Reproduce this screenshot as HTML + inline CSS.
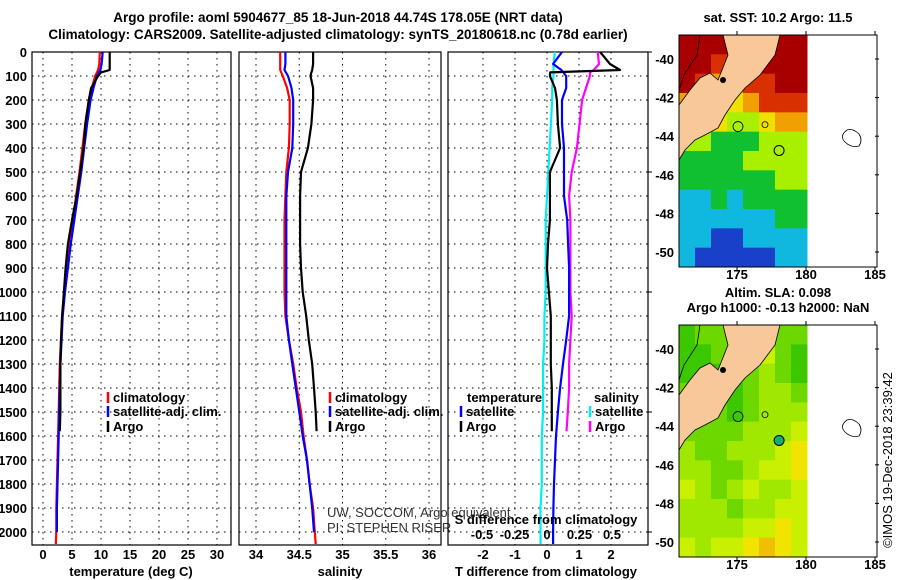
<!DOCTYPE html>
<html><head><meta charset="utf-8"><style>
body{margin:0;background:#fff}
svg{display:block;font-family:"Liberation Sans",sans-serif}
.b{font-weight:bold;font-size:13px;fill:#000}
.t{font-weight:bold;font-size:13.5px;fill:#000}
.n{font-size:13px;fill:#333}
.g{stroke:#000;stroke-width:1;stroke-dasharray:1.5,4.5;fill:none}
</style></head><body>
<svg id="chart" width="900" height="580" viewBox="0 0 900 580">
<text class="t" x="338" y="22" text-anchor="middle">Argo profile: aoml 5904677_85 18-Jun-2018 44.74S 178.05E (NRT data)</text>
<text class="t" x="338" y="39" text-anchor="middle">Climatology: CARS2009. Satellite-adjusted climatology: synTS_20180618.nc (0.78d earlier)</text>
<g id="panels"></g>
<g id="maps"></g>
<text class="n" x="892" y="460" text-anchor="middle" transform="rotate(-90 892 460)" style="fill:#000">©IMOS 19-Dec-2018 23:39:42</text>
</svg>
<script>
// ---------- profile data ----------
const depthT = [0,50,75,85,100,150,200,300,400,500,600,700,800,900,1000,1100,1200,1300,1400,1500,1580];
const argoT = [11.5,11.5,11.5,10,9.5,8.3,7.9,7.3,7.0,6.4,5.8,5.0,4.3,3.9,3.6,3.3,3.1,3.0,3.0,3.0,2.9];
const depthC = [0,50,75,100,150,200,300,400,500,600,700,800,900,1000,1100,1200,1300,1400,1500,1600,1700,1800,1900,2000,2050];
const climT = [9.8,9.7,9.5,9.0,8.4,7.9,7.3,6.8,6.3,5.7,5.2,4.6,4.1,3.7,3.3,3.1,2.9,2.8,2.7,2.6,2.5,2.4,2.3,2.3,2.2];
const satT  = [10.3,10.1,9.9,9.3,8.7,8.2,7.6,7.1,6.6,6.0,5.4,4.8,4.3,3.8,3.4,3.2,3.0,2.9,2.8,2.7,2.6,2.5,2.4,2.4,2.4];
const argoS = [34.66,34.66,34.65,34.64,34.63,34.66,34.66,34.64,34.60,34.52,34.51,34.51,34.51,34.52,34.54,34.58,34.61,34.65,34.67,34.69,34.70];
const climS = [34.28,34.28,34.28,34.31,34.36,34.39,34.39,34.38,34.35,34.34,34.33,34.33,34.33,34.33,34.34,34.38,34.43,34.47,34.52,34.55,34.59,34.62,34.66,34.68,34.69];
const satS  = [34.34,34.34,34.33,34.37,34.41,34.43,34.43,34.42,34.37,34.35,34.35,34.35,34.35,34.35,34.35,34.38,34.42,34.46,34.50,34.54,34.59,34.62,34.65,34.67,34.68];
const argoTd = [1.66,1.97,2.28,0.1,0.09,0.25,0.31,0.34,0.41,0.09,0.09,0.09,0.03,0.0,0.06,0.12,0.12,0.12,0.15,0.15,0.15];
const argoSd = [0.39,0.40,0.36,0.33,0.33,0.30,0.27,0.25,0.23,0.19,0.17,0.18,0.18,0.18,0.18,0.19,0.18,0.17,0.17,0.16,0.15];
const satTd = [0.47,0.19,0.45,0.6,0.6,0.47,0.47,0.53,0.53,0.53,0.63,0.66,0.69,0.69,0.69,0.60,0.50,0.41,0.34,0.28,0.25,0.22,0.20,0.19,0.19,0.19];
const depthSd = [0,50,75,100,150,200,300,400,500,600,700,800,900,1000,1100,1200,1300,1400,1500,1600,1700,1800,1900,2000,2050];
const satSd = [0.06,0.05,0.05,0.05,0.04,0.04,0.03,0.02,0.01,0.0,-0.01,-0.01,-0.01,-0.01,-0.02,-0.02,-0.03,-0.03,-0.03,-0.04,-0.04,-0.04,-0.05,-0.05,-0.05];
const depthTicks = [0,100,200,300,400,500,600,700,800,900,1000,1100,1200,1300,1400,1500,1600,1700,1800,1900,2000];
const tTicks = [0,5,10,15,20,25,30];
const sTicks = [34,34.5,35,35.5,36];
const sLabels = ["34","34.5","35","35.5","36"];
const tdTicks = [-2,-1,0,1,2];
const sdTicks = [-0.5,-0.25,0,0.25,0.5];
const sdLabels = ["-0.5","-0.25","0","0.25","0.5"];
// ---------- map data ----------
const sstGrid = [
[15,15,15,15,15,15,15,15],
[15,15,14,14,15,15,15,15],
[15,14,13,13,14,14,15,15],
[13,13,13,12,13,14,14,14],
[12,12,12,11,11,12,13,13],
[11,11,10,10,10,11,11,11],
[10,10,10,10,11,11,11,11],
[10,10,10,10,10,10,11,11],
[9,9,10,9,10,10,10,10],
[9,9,9,9,9,9,10,10],
[9,9,8,8,9,9,9,9],
[9,8,8,8,8,8,9,9]];
const slaGrid = [
[0,1,1,1,2,1,1,1],
[0,0,1,1,2,3,1,0],
[0,0,0,1,1,2,1,0],
[1,1,0,0,1,2,2,1],
[1,1,1,0,1,2,2,2],
[1,1,1,1,2,2,2,3],
[2,1,1,2,2,2,3,4],
[2,2,1,1,2,3,3,4],
[3,2,1,2,3,2,2,3],
[2,2,2,1,2,2,3,3],
[2,2,2,2,3,3,4,3],
[3,2,3,3,4,5,4,3]];
const lonTicks = [175,180,185];
const latTicks = [-40,-42,-44,-46,-48,-50];

const NS="http://www.w3.org/2000/svg";
function mk(tag,attrs,parent,txt){const e=document.createElementNS(NS,tag);for(const k in attrs)e.setAttribute(k,attrs[k]);if(txt!==undefined)e.textContent=txt;parent.appendChild(e);return e;}
const P=document.getElementById('panels');
const yD=d=>52+d*0.24;
const Y0=52,Y1=545;
function panel(x0,x1,xs,ticks,labels,name){
  const g=mk('g',{},P);
  
  
  depthTicks.forEach(d=>{const l=mk('line',{x1:x0,x2:x1,y1:yD(d),y2:yD(d),class:'g'},g);
    
    });
  ticks.forEach((t,i)=>{const l=mk('line',{x1:xs(t),x2:xs(t),y1:Y0,y2:Y1,class:'g'},g);
    
    
    const tx=mk('text',{x:xs(t),y:559,'text-anchor':'middle',class:'b'},g,labels[i]);
    
    });
  const r=mk('rect',{x:x0,y:Y0,width:x1-x0,height:Y1-Y0,fill:'none',stroke:'#000','stroke-width':1.2},g);
  
  
  return g;
}
function series(g,xs,vals,deps,color,w,name){
  const pts=vals.map((v,i)=>xs(v).toFixed(1)+','+yD(deps[i]).toFixed(1)).join(' ');
  const pl=mk('polyline',{points:pts,fill:'none',stroke:color,'stroke-width':w,'stroke-linejoin':'round'},g);
  
  
}
function legend(g,x,y,color,label){
  const l=mk('line',{x1:x,x2:x,y1:y-10,y2:y+1,stroke:color,'stroke-width':2.5},g);
  
  
  const t=mk('text',{x:x+5,y:y,class:'b'},g,label);
  
  
}
function label(g,x,y,txt,cls,anchor,name){const t=mk('text',{x:x,y:y,class:cls,'text-anchor':anchor||'start'},g,txt);
  
  return t;}

// Panel 1 temperature
const xT=v=>43+v*5.8;
const g1=panel(32,231,xT,tTicks,tTicks.map(String),'temperature-panel');
depthTicks.forEach(d=>label(g1,27,yD(d)+5,String(d),'b','end','y-tick-label'));
series(g1,xT,climT,depthC,'#f00',2.2,'climatology-temperature-line');
series(g1,xT,satT.slice(0,24),depthC.slice(0,24),'#00f',2.2,'satellite-temperature-line');
series(g1,xT,argoT,depthT,'#000',2.2,'argo-temperature-line');
legend(g1,108,402,'#f00','climatology');
legend(g1,108,416,'#00f','satellite-adj. clim.');
legend(g1,108,431,'#000','Argo');
label(g1,131,576,'temperature (deg C)','b','middle','x-axis-title-temperature');

// Panel 2 salinity
const xS=v=>256+(v-34)*86.5;
const g2=panel(239,441,xS,sTicks,sLabels,'salinity-panel');
series(g2,xS,climS,depthC,'#f00',2.2,'climatology-salinity-line');
series(g2,xS,satS.slice(0,24),depthC.slice(0,24),'#00f',2.2,'satellite-salinity-line');
series(g2,xS,argoS,depthT,'#000',2.2,'argo-salinity-line');
legend(g2,330,402,'#f00','climatology');
legend(g2,330,416,'#00f','satellite-adj. clim.');
legend(g2,330,431,'#000','Argo');
label(g2,327,517,'UW, SOCCOM, Argo equivalent','n','start','pi-institution-note');
label(g2,327,532,'PI: STEPHEN RISER','n','start','pi-name-note');
label(g2,340,576,'salinity','b','middle','x-axis-title-salinity');

// Panel 3 differences
const xTd=v=>547+v*32;
const xSd=v=>547+v*130;
const g3=panel(448,648,xTd,tdTicks,tdTicks.map(String),'difference-panel');
[0,1,2,3,4].forEach(i=>{const l=mk('line',{x1:648,x2:652,y1:yD(i*500),y2:yD(i*500),stroke:'#000'},g3);
  
  });
series(g3,xSd,satSd,depthSd,'#0ee',2.2,'satellite-salinity-diff-line');
series(g3,xSd,argoSd,depthT,'#f0f',2.2,'argo-salinity-diff-line');
series(g3,xTd,satTd,depthSd.slice(0,26),'#00f',2.2,'satellite-temperature-diff-line');
series(g3,xTd,argoTd,depthT,'#000',2.2,'argo-temperature-diff-line');
label(g3,467,402,'temperature','b','start','legend-title-temperature');
label(g3,594,402,'salinity','b','start','legend-title-salinity');
legend(g3,461,416,'#00f','satellite');
legend(g3,461,431,'#000','Argo');
legend(g3,590,416,'#0ee','satellite');
legend(g3,590,431,'#f0f','Argo');
label(g3,546,524,'S difference from climatology','b','middle','s-diff-axis-title');
sdTicks.forEach((t,i)=>label(g3,xSd(t),539,sdLabels[i],'b','middle','s-diff-tick-label'));
label(g3,546,576,'T difference from climatology','b','middle','x-axis-title-t-diff');

// ---------- maps ----------
const M=document.getElementById('maps');
const lonX=v=>737+(v-175)*13.8;
const sstPal={8:'#1840c8',9:'#10b8e0',10:'#10c030',11:'#a8f000',12:'#f0e000',13:'#f0a000',14:'#d83000',15:'#a80000'};
const slaPal=['#3cc800','#6cd800','#a0e800','#c8f000','#f0e400','#f0c000'];
function map(top,grid,pal,name,title1,title2,argoFill){
  const g=mk('g',{},M);
  
  
  const latY=v=>top+24+(-40-v)*19.3;
  const cw=128/8, ch=232/12;
  grid.forEach((row,r)=>row.forEach((v,c)=>{
    const cell=mk('rect',{x:679+c*cw,y:top+r*ch,width:cw+0.5,height:ch+0.5,fill:pal[v]},g);
    
    
  }));
  const land=mk('polygon',{points:[[723,0],[780,0],[775,20],[760,40],[745,53],[735,65],[725,80],[718,93],[705,100],[695,105],[685,115],[679,125],[679,70],[690,55],[700,43],[710,38],[718,45],[722,35],[728,20]].map(p=>p[0]+','+(p[1]+top)).join(' '),fill:'#f8c898',stroke:'#000','stroke-width':0.8},g);
  
  
  const blob=mk('circle',{cx:723,cy:top+45,r:3,fill:'#000'},g);
  
  
  const coast=mk('polyline',{points:[[700,0],[697,20],[684,40],[679,55]].map(p=>p[0]+','+(p[1]+top)).join(' '),fill:'none',stroke:'#000','stroke-width':0.8},g);
  
  
  const isl=mk('path',{d:`M847,${top+95} q-8,6 -2,12 q6,6 14,4 q4,-6 0,-12 q-6,-6 -12,-4z`,fill:'#fff',stroke:'#000','stroke-width':0.8},g);
  
  
  [[738,latY(-43.5),5],[765,latY(-43.4),3]].forEach(s=>{const c=mk('circle',{cx:s[0],cy:s[1],r:s[2],fill:'none',stroke:'#000','stroke-width':0.8},g);
    
    });
  const a=mk('circle',{cx:lonX(178.05),cy:latY(-44.74),r:5,fill:argoFill,stroke:'#000','stroke-width':1},g);
  
  
  const fr=mk('rect',{x:679,y:top,width:198,height:232,fill:'none',stroke:'#000','stroke-width':1},g);
  
  
  lonTicks.forEach(v=>{mk('line',{x1:lonX(v),x2:lonX(v),y1:top,y2:top-4,stroke:'#000'},g);
    mk('line',{x1:lonX(v),x2:lonX(v),y1:top+232,y2:top+236,stroke:'#000'},g);
    label(g,lonX(v),top+244,String(v),'b','middle','map-lon-tick-label');});
  latTicks.forEach(v=>{mk('line',{x1:875,x2:879,y1:latY(v),y2:latY(v),stroke:'#000'},g);
    label(g,674,latY(v)+5,String(v),'b','end','map-lat-tick-label');});
  label(g,778,top-(title2?28:13),title1,'b','middle','map-title');
  if(title2)label(g,778,top-13,title2,'b','middle','map-subtitle');
}
map(35,sstGrid,sstPal,'sst-map','sat. SST: 10.2 Argo: 11.5',null,'none');
map(325,slaGrid,slaPal,'sla-map','Altim. SLA: 0.098','Argo h1000: -0.13 h2000: NaN','#10b070');
</script>
</body></html>
